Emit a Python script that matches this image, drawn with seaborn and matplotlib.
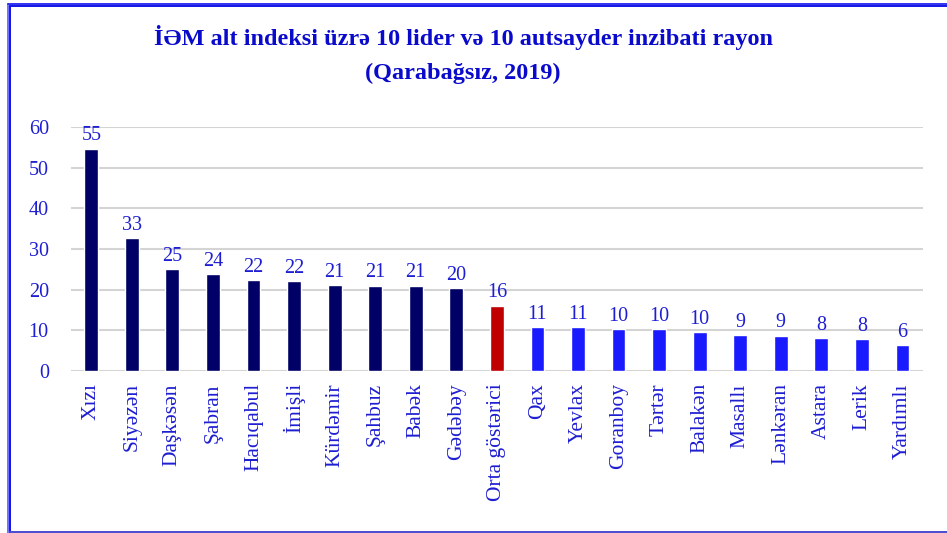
import matplotlib
matplotlib.use("Agg")
import matplotlib.pyplot as plt
from matplotlib.lines import Line2D
import seaborn as sns
import pandas as pd

# data
rayonlar = ["Xızı", "Siyəzən", "Daşkəsən", "Şabran", "Hacıqabul", "İmişli",
            "Kürdəmir", "Şahbuz", "Babək", "Gədəbəy", "Orta göstərici",
            "Qax", "Yevlax", "Goranboy", "Tərtər", "Balakən", "Masallı",
            "Lənkəran", "Astara", "Lerik", "Yardımlı"]
deyerler = [54.7, 32.6, 25.0, 23.8, 22.3, 22.1, 21.1, 21.0, 20.9, 20.3, 16.0,
            10.7, 10.7, 10.2, 10.2, 9.5, 8.8, 8.6, 8.0, 7.7, 6.3]
qrup = ["lider"] * 10 + ["orta"] + ["autsayder"] * 10
y_ticks = [0, 10, 20, 30, 40, 50, 60]

NAVY, RED, BLUE = "#000066", "#C00000", "#1A1AFF"
TXT = "#1E1ED2"
GRID = "#D4D4D4"
renk = {"lider": NAVY, "orta": RED, "autsayder": BLUE}

df = pd.DataFrame({"rayon": rayonlar, "deyer": deyerler, "qrup": qrup})

sns.set_style("white")
plt.rcParams["font.family"] = ["Liberation Serif", "DejaVu Serif"]

fig = plt.figure(figsize=(9.47, 5.33), dpi=100, facecolor="white")
ax = fig.add_axes([71 / 947, 1 - 370.7 / 533, (922.7 - 71) / 947, (370.7 - 127.3) / 533])

sns.barplot(data=df, x="rayon", y="deyer", hue="rayon",
            palette=[renk[g] for g in qrup], legend=False,
            width=0.34, ax=ax, saturation=1, zorder=3)

ax.set_ylim(0, 60)
ax.set_xlim(-0.5, len(rayonlar) - 0.5)
ax.set_yticks(y_ticks)
ax.set_yticklabels([str(t) for t in y_ticks], color=TXT, fontsize=14.5)
ax.set_xticks(range(len(rayonlar)))
ax.set_xticklabels(rayonlar, rotation=90, color=TXT, fontsize=15.5)
ax.tick_params(axis="x", length=0, pad=9)
ax.tick_params(axis="y", length=0, pad=16)
ax.set_xlabel("")
ax.set_ylabel("")
ax.grid(axis="y", color=GRID, lw=1.5, zorder=0)
ax.grid(axis="x", visible=False)
for s in ax.spines.values():
    s.set_visible(False)

for i, v in enumerate(deyerler):
    ax.annotate(f"{round(v):d}", (i, v), xytext=(0, 2.5), textcoords="offset points",
                ha="center", va="bottom", color=TXT, fontsize=14.5)

fig.text(463 / 947, 1 - 37 / 533, "İƏM alt indeksi üzrə 10 lider və 10 autsayder inzibati rayon",
         ha="center", va="center", color="#0A0ACC", fontsize=17.5, fontweight="bold")
fig.text(463 / 947, 1 - 73 / 533, "(Qarabağsız, 2019)",
         ha="center", va="center", color="#0A0ACC", fontsize=17.5, fontweight="bold")

# chart frame
W, H = 947, 533
def fx(px):
    return px / W
def fy(py):
    return 1 - py / H
fig.add_artist(Line2D([fx(8), fx(8)], [fy(4), fy(533)], color="#7070FF", lw=1.4))
fig.add_artist(Line2D([fx(10.3), fx(10.3)], [fy(6), fy(533)], color="#1414E6", lw=1.4))
fig.add_artist(Line2D([fx(8), fx(947)], [fy(4), fy(4)], color="#3030F0", lw=1.4))
fig.add_artist(Line2D([fx(10.3), fx(947)], [fy(6.3), fy(6.3)], color="#1414E6", lw=1.4))
fig.add_artist(Line2D([fx(10), fx(947)], [fy(532), fy(532)], color="#4A4AD0", lw=1.4))

fig.savefig("out.png", dpi=100, facecolor="white")
